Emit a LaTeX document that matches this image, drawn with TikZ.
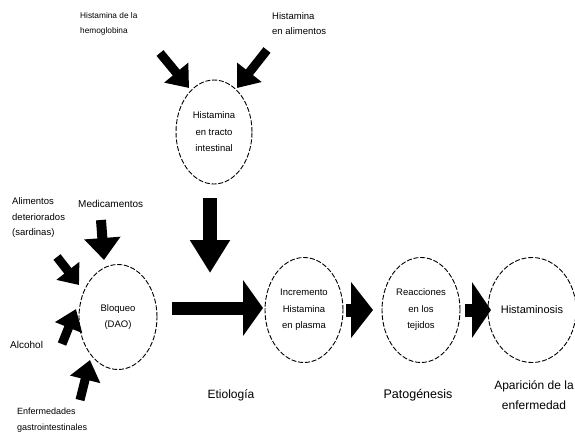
\documentclass[tikz,border=0pt]{standalone}
\usepackage{fontspec}
\setmainfont{Liberation Sans}
\usetikzlibrary{shapes.geometric,arrows.meta}
\tikzset{
  stage/.style={draw, dash pattern=on 5pt off 1.8pt, line width=0.9pt, ellipse,
    minimum width=78pt, minimum height=105pt, inner sep=0pt, align=center,
    font=\fontsize{9.5}{16.5}\selectfont},
  lbl/.style={align=left, inner sep=0pt, font=\fontsize{9}{15.5}\selectfont},
  bottomlbl/.style={align=center, inner sep=0pt, font=\fontsize{12}{20}\selectfont},
  blockarrow/.style={line width=#1, draw=black},
}
\begin{document}
\begin{tikzpicture}[x=1pt,y=-1pt]
\useasboundingbox (0,0) rectangle (575,437);
\fill[white] (0,0) rectangle (575,437);

% text nodes
\node[lbl, anchor=west, font=\fontsize{8.3}{15}\selectfont] (hemo) at (80,24) {Histamina de la\\hemoglobina};
\node[lbl, anchor=west, font=\fontsize{9.5}{15}\selectfont] (alim) at (272,24) {Histamina\\en alimentos};
\node[lbl, anchor=west, font=\fontsize{9.5}{15.5}\selectfont] (deter) at (12,218) {Alimentos\\deteriorados\\(sardinas)};
\node[lbl, anchor=west, font=\fontsize{10}{15}\selectfont] (medic) at (78,204) {Medicamentos};
\node[lbl, anchor=west, font=\fontsize{10}{15}\selectfont] (alco) at (10,345) {Alcohol};
\node[lbl, anchor=west] (enfer) at (17,420) {Enfermedades\\gastrointestinales};

% ellipses
\node[stage, minimum width=76pt, minimum height=104pt] (tracto) at (214,132) {Histamina\\en tracto\\intestinal};
\node[stage] (dao) at (118,317) {Bloqueo\\(DAO)};
\node[stage] (plasma) at (304,310) {Incremento\\Histamina\\en plasma};
\node[stage] (tejidos) at (421,310) {Reacciones\\en los\\tejidos};
\node[stage, font=\fontsize{11}{16}\selectfont] (hmsis) at (532,310) {Histaminosis};

% bottom labels
\node[bottomlbl] (etio) at (231,395) {Etiología};
\node[bottomlbl, font=\fontsize{12.5}{20}\selectfont] (pato) at (418,395) {Patogénesis};
\node[bottomlbl] (apar) at (534,395) {Aparición de la\\enfermedad};

% arrow coordinates
\coordinate (h1) at (160,53);  \coordinate (h2) at (189,88);
\coordinate (a1) at (267,50);  \coordinate (a2) at (237,88);
\coordinate (v1) at (210,198); \coordinate (v2) at (210,273);
\coordinate (m1) at (101,220); \coordinate (m2) at (104,260);
\coordinate (d1) at (57,257);  \coordinate (d2) at (79,285);
\coordinate (c1) at (62,344);  \coordinate (c2) at (76,309);
\coordinate (e1) at (80,400);  \coordinate (e2) at (90,360);
\coordinate (x1) at (172,308); \coordinate (x2) at (263,308);
\coordinate (s1) at (346,310); \coordinate (s2) at (373,310);
\coordinate (t1) at (465,310); \coordinate (t2) at (491,310);

% block arrows
\draw[blockarrow=9pt, -{Triangle[length=20pt,width=30pt]}] (h1) -- (h2);
\draw[blockarrow=9pt, -{Triangle[length=20pt,width=30pt]}] (a1) -- (a2);
\draw[blockarrow=14pt, -{Triangle[length=33pt,width=38pt]}] (v1) -- (v2);
\draw[blockarrow=10pt, -{Triangle[length=22pt,width=35pt]}] (m1) -- (m2);
\draw[blockarrow=9pt, -{Triangle[length=18pt,width=28pt]}] (d1) -- (d2);
\draw[blockarrow=9pt, -{Triangle[length=20pt,width=28pt]}] (c1) -- (c2);
\draw[blockarrow=9pt, -{Triangle[length=20pt,width=30pt]}] (e1) -- (e2);
\draw[blockarrow=13pt, -{Triangle[length=20pt,width=55pt]}] (x1) -- (x2);
\draw[blockarrow=13pt, -{Triangle[length=22pt,width=55pt]}] (s1) -- (s2);
\draw[blockarrow=13pt, -{Triangle[length=19pt,width=55pt]}] (t1) -- (t2);
\end{tikzpicture}
\end{document}
